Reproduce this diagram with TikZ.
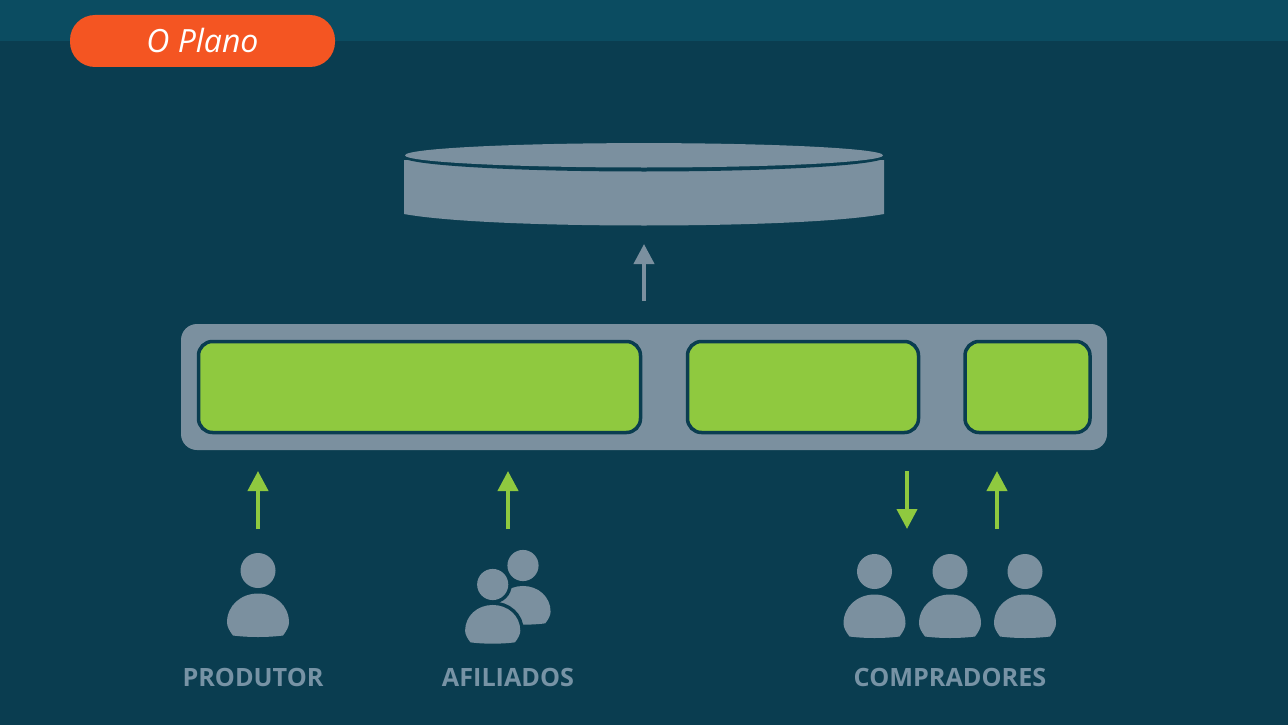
\documentclass[tikz,border=0pt]{standalone}
\usepackage{fontspec}
\setmainfont{Open Sans}
\usetikzlibrary{arrows.meta}
\definecolor{bgc}{HTML}{0A3D50}
\definecolor{bandc}{HTML}{0B4C61}
\definecolor{greyc}{HTML}{7B909F}
\definecolor{labelc}{HTML}{7793A5}
\definecolor{greenc}{HTML}{8FC93F}
\definecolor{orangec}{HTML}{F45522}
\tikzset{
  x=1pt,y=-1pt,
  slot/.style={draw=bgc,line width=3.5pt,fill=greenc,rounded corners=14pt,minimum height=91pt,inner sep=0pt,outer sep=0pt},
  bar/.style={fill=greyc,rounded corners=16pt,minimum width=926pt,minimum height=126pt,inner sep=0pt,outer sep=0pt},
  lab/.style={text=labelc,font=\fontsize{25.2}{28}\selectfont\bfseries,anchor=base,inner sep=0pt},
  arr/.style={line width=4pt,-{Triangle[length=20pt,width=20pt]}},
  pics/person/.style={code={
    \path[#1] (0,0) circle[radius=17.5];
    \path[#1] (-25,65) .. controls (-28.5,60.5) and (-31,56) .. (-31,52)
      .. controls (-31,35) and (-17,23) .. (0,23)
      .. controls (17,23) and (31,35) .. (31,52)
      .. controls (31,56) and (28.5,60.5) .. (25,65)
      .. controls (10,67) and (-10,67) .. (-25,65) -- cycle;
  }},
}
\begin{document}
\begin{tikzpicture}
\useasboundingbox (0,0) rectangle (1288,725);
\fill[bgc] (0,0) rectangle (1288,725);
\fill[bandc] (0,0) rectangle (1288,41);
% title
\node[fill=orangec,rounded corners=25pt,minimum width=265pt,minimum height=52pt,inner sep=0pt] (title) at (202.5,41) {};
\node[text=white,font=\fontsize{32}{36}\selectfont\itshape,inner sep=0pt,anchor=base] (titletext) at (202.5,53) {O Plano};
% cylinder
\fill[greyc] (404,160) -- (884,160) -- (884,214)
  .. controls (840,222) and (740,225.5) .. (644,225.5)
  .. controls (548,225.5) and (448,222) .. (404,214) -- cycle;
\fill[bgc] (644,157) ellipse[x radius=241,y radius=14.5];
\fill[greyc] (644,155.3) ellipse[x radius=239,y radius=12.2];
\coordinate (cyl) at (644,244);
% bar
\node[bar] (barbox) at (644,387) {};
\node[slot,minimum width=442pt] (s1) at (419.5,387) {};
\node[slot,minimum width=231pt] (s2) at (803,387) {};
\node[slot,minimum width=125pt] (s3) at (1027.5,387) {};
% arrows
\coordinate (a0) at (644,301);
\draw[arr,greyc] (a0) -- (cyl);
\coordinate (p1) at (258,529); \coordinate (q1) at (258,471);
\coordinate (p2) at (508,529); \coordinate (q2) at (508,471);
\coordinate (p3) at (907,471); \coordinate (q3) at (907,529);
\coordinate (p4) at (997,529); \coordinate (q4) at (997,471);
\draw[arr,greenc] (p1) -- (q1);
\draw[arr,greenc] (p2) -- (q2);
\draw[arr,greenc] (p3) -- (q3);
\draw[arr,greenc] (p4) -- (q4);
% people
\pic at (258,570.5) {person={fill=greyc}};
\pic[scale=0.89] at (523,565.5) {person={fill=greyc}};
\pic[scale=0.89] at (492.7,584.5) {person={fill=bgc,draw=bgc,line width=7pt}};
\pic[scale=0.89] at (492.7,584.5) {person={fill=greyc}};
\pic at (874.5,571.5) {person={fill=greyc}};
\pic at (950,571.5) {person={fill=greyc}};
\pic at (1025,571.5) {person={fill=greyc}};
% labels
\node[lab] (l1) at (253,686.5) {PRODUTOR};
\node[lab] (l2) at (508,686.5) {AFILIADOS};
\node[lab] (l3) at (950,686.5) {COMPRADORES};
\end{tikzpicture}
\end{document}
